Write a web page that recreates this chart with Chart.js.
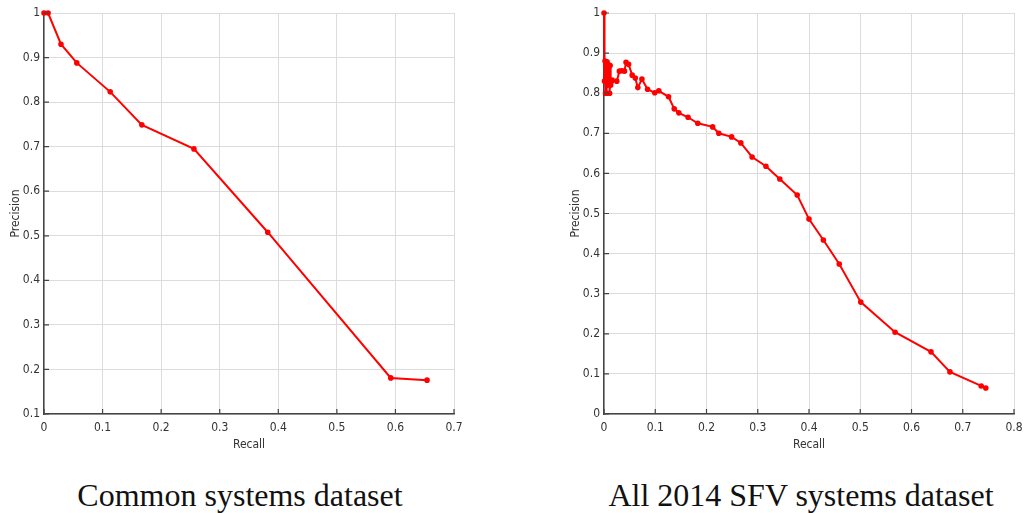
<!DOCTYPE html>
<html>
<head>
<meta charset="utf-8">
<script src="https://cdn.jsdelivr.net/npm/chart.js@4.4.0/dist/chart.umd.min.js"></script>
<style>
  body { margin: 0; background: #fff; width: 1026px; height: 513px; position: relative; overflow: hidden; }
  .box { position: absolute; top: 0; }
  .cap { position: absolute; top: 476px; font-family: "Liberation Serif", "Times New Roman", serif; font-size: 32px; line-height: 38px; color: #111; text-align: center; white-space: nowrap; }
</style>
</head>
<body>
<div class="box" style="left:0; width:470px; height:460px;"><canvas id="left"></canvas></div>
<div class="box" style="left:560px; width:466px; height:460px;"><canvas id="right"></canvas></div>
<div class="cap" style="left:0; width:480px;">Common systems dataset</div>
<div class="cap" style="left:576px; width:450px;">All 2014 SFV systems dataset</div>
<script>
// common systems dataset
const commonRecall = [0, 0.007, 0.029, 0.056, 0.113, 0.167, 0.256, 0.382, 0.592, 0.654];
const commonPrecision = [1, 1, 0.930, 0.888, 0.823, 0.749, 0.695, 0.508, 0.181, 0.176];

// all 2014 SFV systems dataset
const allRecall = [0, 0.001, 0.002, 0.003, 0.004, 0.005, 0.006, 0.007, 0.008, 0.009, 0.010, 0.011, 0.012, 0.013, 0.015,
  0.016, 0.025, 0.030, 0.035, 0.040, 0.043, 0.048, 0.055, 0.061, 0.066, 0.074, 0.085, 0.099, 0.107, 0.126,
  0.137, 0.146, 0.164, 0.183, 0.212, 0.224, 0.249, 0.267, 0.289, 0.316, 0.343, 0.377, 0.400, 0.428, 0.459,
  0.501, 0.568, 0.638, 0.675, 0.736, 0.745];
const allPrecision = [1, 0.83, 0.88, 0.80, 0.87, 0.80, 0.878, 0.82, 0.86, 0.83, 0.87, 0.80, 0.869, 0.82, 0.83,
  0.833, 0.830, 0.855, 0.856, 0.855, 0.877, 0.872, 0.845, 0.838, 0.814, 0.835, 0.810, 0.801, 0.806, 0.791,
  0.761, 0.751, 0.740, 0.725, 0.716, 0.700, 0.691, 0.676, 0.641, 0.618, 0.586, 0.546, 0.486, 0.434, 0.374,
  0.279, 0.204, 0.155, 0.105, 0.070, 0.065];

const xTicks1 = [0, 0.1, 0.2, 0.3, 0.4, 0.5, 0.6, 0.7];
const yTicks1 = [0.1, 0.2, 0.3, 0.4, 0.5, 0.6, 0.7, 0.8, 0.9, 1];
const xTicks2 = [0, 0.1, 0.2, 0.3, 0.4, 0.5, 0.6, 0.7, 0.8];
const yTicks2 = [0, 0.1, 0.2, 0.3, 0.4, 0.5, 0.6, 0.7, 0.8, 0.9, 1];

const tickFont = { family: "'DejaVu Sans Condensed', 'DejaVu Sans', sans-serif", size: 12 };
const axisColor = '#444';

function fmt(v) {
  return String(Number(v.toFixed(1)));
}

// small inward ticks like matlab
const innerTicks = {
  id: 'innerTicks',
  afterDraw(chart) {
    const ctx = chart.ctx;
    const a = chart.chartArea;
    const sx = chart.scales.x, sy = chart.scales.y;
    ctx.save();
    ctx.strokeStyle = axisColor;
    ctx.lineWidth = 1.2;
    ctx.beginPath();
    sx.ticks.forEach(t => {
      const px = sx.getPixelForValue(t.value);
      ctx.moveTo(px, a.bottom);
      ctx.lineTo(px, a.bottom - 5);
    });
    sy.ticks.forEach(t => {
      const py = sy.getPixelForValue(t.value);
      ctx.moveTo(a.left, py);
      ctx.lineTo(a.left + 5, py);
    });
    ctx.stroke();
    ctx.restore();
  }
};

function makeChart(id, xs, ys, xTicks, yTicks, rightPad) {
  const pts = xs.map((x, i) => ({ x: x, y: ys[i] }));
  return new Chart(document.getElementById(id), {
    type: 'scatter',
    data: {
      datasets: [{
        data: pts,
        showLine: true,
        borderColor: '#ff0000',
        backgroundColor: '#ff0000',
        borderWidth: 2,
        pointRadius: 1.8,
        pointHoverRadius: 1.8,
        clip: false
      }]
    },
    options: {
      responsive: true,
      maintainAspectRatio: false,
      animation: false,
      layout: { padding: { top: 13, right: rightPad, left: 0, bottom: 0 } },
      plugins: { legend: { display: false }, tooltip: { enabled: false } },
      scales: {
        x: {
          type: 'linear',
          min: xTicks[0],
          max: xTicks[xTicks.length - 1],
          afterBuildTicks: s => { s.ticks = xTicks.map(v => ({ value: v })); },
          afterFit: s => { s.height = 46; s.paddingRight = 0; s.paddingLeft = 0; },
          grid: { color: '#dcdcdc', lineWidth: 1, drawTicks: false },
          border: { color: axisColor, width: 1.5 },
          ticks: { color: '#333', font: tickFont, padding: 7, maxRotation: 0, callback: v => fmt(v) },
          title: { display: true, text: 'Recall', color: '#333', font: tickFont, padding: { top: 0, bottom: 8 } }
        },
        y: {
          type: 'linear',
          min: yTicks[0],
          max: yTicks[yTicks.length - 1],
          afterBuildTicks: s => { s.ticks = yTicks.map(v => ({ value: v })); },
          afterFit: s => { s.width = 44; s.paddingTop = 0; s.paddingBottom = 0; },
          grid: { color: '#dcdcdc', lineWidth: 1, drawTicks: false },
          border: { color: axisColor, width: 1.5 },
          ticks: { color: '#333', font: tickFont, padding: 4, callback: v => fmt(v) },
          title: { display: true, text: 'Precision', color: '#333', font: tickFont, padding: { top: 9, bottom: 0 } }
        }
      }
    },
    plugins: [innerTicks]
  });
}

makeChart('left', commonRecall, commonPrecision, xTicks1, yTicks1, 16);
makeChart('right', allRecall, allPrecision, xTicks2, yTicks2, 12);
</script>
</body>
</html>
